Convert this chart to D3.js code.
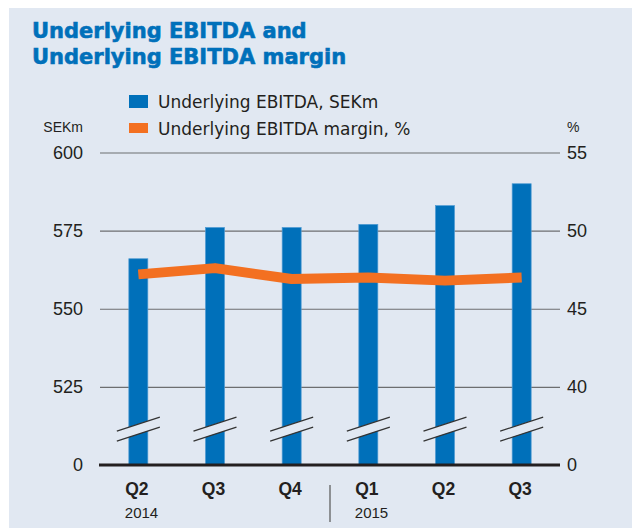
<!DOCTYPE html>
<html>
<head>
<meta charset="utf-8">
<script src="https://cdn.jsdelivr.net/npm/d3@7"></script>
<style>
  body { margin: 0; background: #fff; }
  text { font-family: "Liberation Sans", Arial, sans-serif; fill: #231f20; }
</style>
</head>
<body>
<div id="canvas"></div>
<script>
let quarters = ['Q2', 'Q3', 'Q4', 'Q1', 'Q2', 'Q3'];
let years = ['2014', '', '', '2015', '', ''];
let ebitda = [566, 576, 576, 577, 583, 590];
let margin = [47.2, 47.6, 46.9, 47.0, 46.8, 47.0];
let leftTicks = [500, 525, 550, 575, 600];
let rightTicks = [35, 40, 45, 50, 55];

let ids = quarters.map(function(d, i) { return i; });

let canvas = d3.select('#canvas');

let svg = canvas.append('svg')
  .attr('width', 632)
  .attr('height', 529);

let bg = '#e1e8f2';

svg.append('rect')
  .attr('x', 9)
  .attr('y', 8)
  .attr('width', 623)
  .attr('height', 520)
  .attr('fill', bg);

// title
let title = svg.append('text')
  .style('font-family', '"DejaVu Sans", sans-serif')
  .style('font-weight', 'bold')
  .style('font-size', '21px')
  .style('fill', '#0070ba')
  .style('stroke', '#0070ba')
  .style('stroke-width', 0.6);
title.append('tspan').attr('x', 32).attr('y', 38).text('Underlying EBITDA and');
title.append('tspan').attr('x', 32).attr('y', 64).text('Underlying EBITDA margin');

// legend
let legend = [
  { label: 'Underlying EBITDA, SEKm', color: '#0070ba', y: 95, h: 13, ty: 108 },
  { label: 'Underlying EBITDA margin, %', color: '#f37021', y: 123, h: 10, ty: 135 }
];

svg.selectAll('.leg-box')
  .data(legend)
  .enter()
  .append('rect')
  .attr('x', 129)
  .attr('y', function(d) { return d.y; })
  .attr('width', 19)
  .attr('height', function(d) { return d.h; })
  .attr('fill', function(d) { return d.color; });

svg.selectAll('.leg-text')
  .data(legend)
  .enter()
  .append('text')
  .attr('x', 158)
  .attr('y', function(d) { return d.ty; })
  .style('font-family', '"DejaVu Sans", sans-serif')
  .style('font-size', '17px')
  .text(function(d) { return d.label; });

// scales
let x = d3.scalePoint()
  .domain(ids)
  .range([100, 560])
  .padding(0.5);

let yL = d3.scaleLinear()
  .domain([500, 600])
  .range([465, 152.5]);

let yR = d3.scaleLinear()
  .domain([35, 55])
  .range([465, 152.5]);

// unit labels
svg.append('text')
  .attr('x', 83)
  .attr('y', 132)
  .attr('text-anchor', 'end')
  .style('font-size', '14px')
  .text('SEKm');

svg.append('text')
  .attr('x', 567)
  .attr('y', 132)
  .style('font-size', '14px')
  .text('%');

// gridlines
let grid = svg.append('g')
  .attr('transform', 'translate(100,0)')
  .call(d3.axisRight(yL).tickValues(leftTicks.slice(1)).tickSize(460).tickFormat(''));
grid.select('.domain').remove();
grid.selectAll('line').attr('stroke', '#6d6e70').attr('stroke-width', 1.2);

// left axis labels
let leftAxis = svg.append('g')
  .attr('transform', 'translate(100,0)')
  .call(d3.axisLeft(yL).tickValues(leftTicks).tickSize(0).tickPadding(17)
    .tickFormat(function(d) { return d === 500 ? '0' : d; }));
leftAxis.select('.domain').remove();
leftAxis.selectAll('text')
  .style('font-family', '"Liberation Sans", Arial, sans-serif')
  .style('font-size', '18px')
  .style('fill', '#231f20');

// right axis labels
let rightAxis = svg.append('g')
  .attr('transform', 'translate(560,0)')
  .call(d3.axisRight(yR).tickValues(rightTicks).tickSize(0).tickPadding(7)
    .tickFormat(function(d) { return d === 35 ? '0' : d; }));
rightAxis.select('.domain').remove();
rightAxis.selectAll('text')
  .style('font-family', '"Liberation Sans", Arial, sans-serif')
  .style('font-size', '18px')
  .style('fill', '#231f20');

// bars
svg.selectAll('.bar')
  .data(ebitda)
  .enter()
  .append('rect')
  .attr('class', 'bar')
  .attr('x', function(d, i) { return x(i) - 9.5; })
  .attr('y', function(d) { return yL(d); })
  .attr('width', 19)
  .attr('height', function(d) { return yL(500) - yL(d); })
  .attr('fill', '#0070ba')
  .attr('stroke', '#4f9ad3')
  .attr('stroke-width', 0.7);

// axis breaks
let bmid = yL(511.5);
let breaks = svg.selectAll('.brk')
  .data(ids)
  .enter()
  .append('g')
  .attr('transform', function(d) { return 'translate(' + x(d) + ',' + bmid + ')'; });

breaks.append('polygon')
  .attr('points', '-21.5,2 21.5,-12 21.5,-2 -21.5,12')
  .attr('fill', bg);

breaks.append('line')
  .attr('x1', -21.5).attr('y1', 2).attr('x2', 21.5).attr('y2', -12)
  .attr('stroke', '#333').attr('stroke-width', 1.2);

breaks.append('line')
  .attr('x1', -21.5).attr('y1', 12).attr('x2', 21.5).attr('y2', -2)
  .attr('stroke', '#333').attr('stroke-width', 1.2);

// baseline
svg.append('line')
  .attr('x1', 99)
  .attr('x2', 560)
  .attr('y1', yL(500))
  .attr('y2', yL(500))
  .attr('stroke', '#231f20')
  .attr('stroke-width', 3);

// margin line
let line = d3.line()
  .x(function(d, i) { return x(i); })
  .y(function(d) { return yR(d); });

svg.append('path')
  .datum(margin)
  .attr('d', line)
  .attr('fill', 'none')
  .attr('stroke', '#f37021')
  .attr('stroke-width', 10)
  .attr('stroke-linejoin', 'round');

// x labels
svg.selectAll('.qlab')
  .data(quarters)
  .enter()
  .append('text')
  .attr('x', function(d, i) { return x(i) - 1.5; })
  .attr('y', 495)
  .attr('text-anchor', 'middle')
  .style('font-weight', 'bold')
  .style('font-size', '17.5px')
  .text(function(d) { return d; });

svg.selectAll('.ylab')
  .data(years)
  .enter()
  .append('text')
  .attr('x', function(d, i) { return x(i) - 13.5; })
  .attr('y', 518)
  .style('font-size', '15px')
  .text(function(d) { return d; });

// year divider
svg.append('line')
  .attr('x1', (x(2) + x(3)) / 2)
  .attr('x2', (x(2) + x(3)) / 2)
  .attr('y1', 485)
  .attr('y2', 522)
  .attr('stroke', '#555')
  .attr('stroke-width', 1.2);
</script>
</body>
</html>
